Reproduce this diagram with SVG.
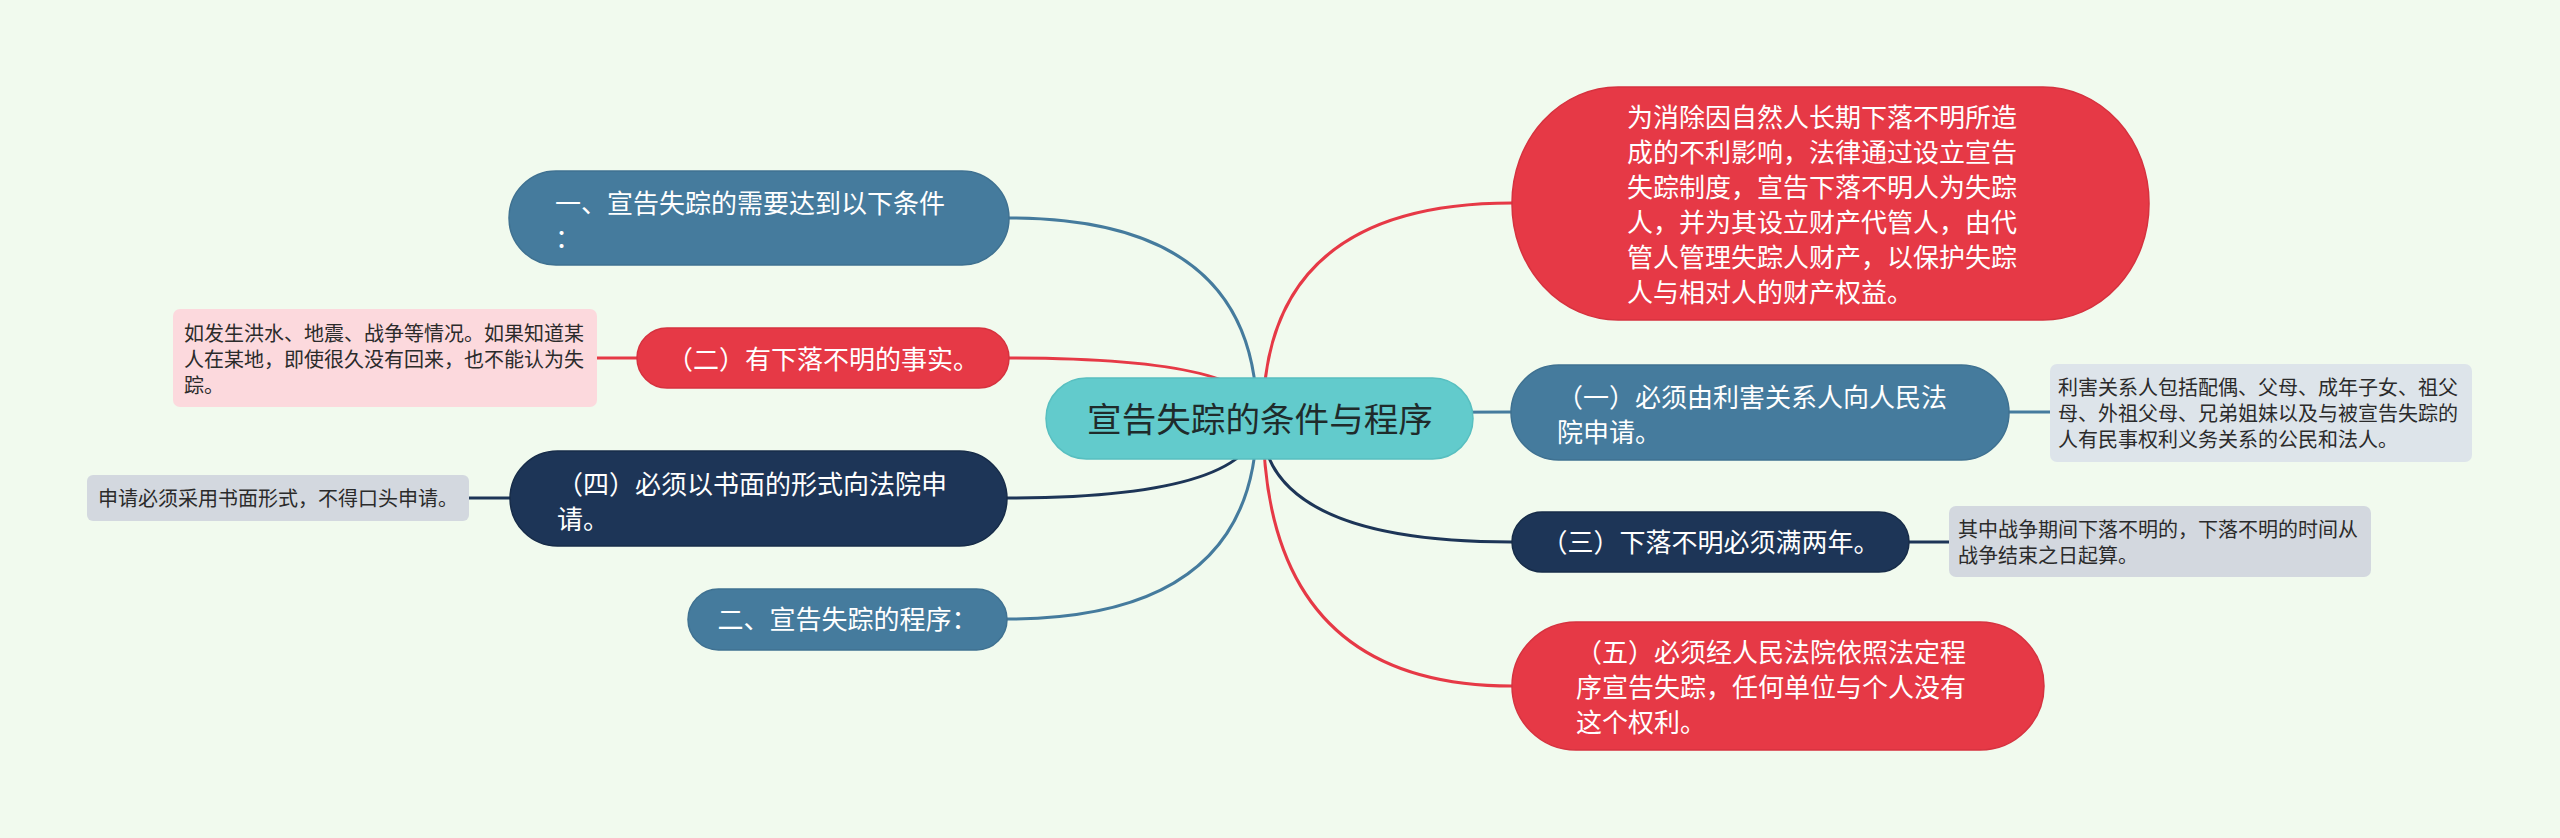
<svg xmlns="http://www.w3.org/2000/svg" width="2560" height="838" viewBox="0 0 2560 838">
<style>
text{font-family:"Noto Sans CJK SC","Noto Sans",sans-serif}
.conn{fill:none;stroke-width:3}
.blue{stroke:#457b9d}.red{stroke:#e63946}.navy{stroke:#1d3557}
.nb{fill:#457b9d;stroke:#3f7191;stroke-width:1.5}
.nr{fill:#e63946;stroke:#d6323f;stroke-width:1.5}
.nn{fill:#1d3557;stroke:#172c49;stroke-width:1.5}
.nt{fill:#ffffff;font-size:26px}
.note{font-size:20px;fill:#2b2b2b}
</style>
<rect x="0" y="0" width="2560" height="838" fill="#f1faee"/>
<g id="connectors">
<path class="conn blue" d="M1257,418 Q1257,218 1009,218"/>
<path class="conn red" d="M1261,418 Q1261,358 1009,358"/>
<path class="conn navy" d="M1259,418 Q1259,498 1007,498"/>
<path class="conn blue" d="M1257,418 Q1257,619 1007,619"/>
<path class="conn red" d="M1263,418 Q1263,203 1512,203"/>
<path class="conn blue" d="M1259,418 Q1259,412 1512,412"/>
<path class="conn navy" d="M1261,418 Q1261,542 1512,542"/>
<path class="conn red" d="M1263,418 Q1263,686 1512,686"/>
<path class="conn red" d="M597,358 L637,358"/>
<path class="conn navy" d="M469,498 L510,498"/>
<path class="conn blue" d="M2009,412 L2050,412"/>
<path class="conn navy" d="M1909,542 L1949,542"/>
</g>
<g id="root">
<rect x="1046" y="378" width="427" height="81" rx="40.5" fill="#62cbcc" stroke="#58bfc0" stroke-width="1.5"/>
<text x="1260" y="432" text-anchor="middle" font-size="34.6" fill="#1f2b2b">宣告失踪的条件与程序</text>
</g>
<g id="n-cond">
<rect x="509" y="171" width="500" height="94" rx="47" class="nb"/>
<text class="nt" x="555" y="213">一、宣告失踪的需要达到以下条件</text>
<text class="nt" x="555" y="248">：</text>
</g>
<g id="n-2">
<rect x="637" y="328" width="372" height="60" rx="30" class="nr"/>
<text class="nt" x="823" y="369" text-anchor="middle">（二）有下落不明的事实。</text>
</g>
<g id="note-2">
<rect x="173" y="309" width="424" height="98" rx="7" fill="#fcd9dd"/>
<text class="note" x="184" y="341" fill="#5a1a20">如发生洪水、地震、战争等情况。如果知道某</text>
<text class="note" x="184" y="367" fill="#5a1a20">人在某地，即使很久没有回来，也不能认为失</text>
<text class="note" x="184" y="393" fill="#5a1a20">踪。</text>
</g>
<g id="n-4">
<rect x="510" y="451" width="497" height="95" rx="47.5" class="nn"/>
<text class="nt" x="557" y="494">（四）必须以书面的形式向法院申</text>
<text class="nt" x="557" y="529">请。</text>
</g>
<g id="note-4">
<rect x="87" y="475" width="382" height="46" rx="6" fill="#d3d8df"/>
<text class="note" x="98" y="506">申请必须采用书面形式，不得口头申请。</text>
</g>
<g id="n-proc">
<rect x="688" y="589" width="319" height="61" rx="30.5" class="nb"/>
<text class="nt" x="847.5" y="629" text-anchor="middle">二、宣告失踪的程序：</text>
</g>
<g id="n-intro">
<rect x="1512" y="87" width="637" height="233" rx="106" ry="116" class="nr"/>
<text class="nt" x="1627" y="127">为消除因自然人长期下落不明所造</text>
<text class="nt" x="1627" y="162">成的不利影响，法律通过设立宣告</text>
<text class="nt" x="1627" y="197">失踪制度，宣告下落不明人为失踪</text>
<text class="nt" x="1627" y="232">人，并为其设立财产代管人，由代</text>
<text class="nt" x="1627" y="267">管人管理失踪人财产，以保护失踪</text>
<text class="nt" x="1627" y="302">人与相对人的财产权益。</text>
</g>
<g id="n-1">
<rect x="1511" y="365" width="498" height="95" rx="47.5" class="nb"/>
<text class="nt" x="1557" y="407">（一）必须由利害关系人向人民法</text>
<text class="nt" x="1557" y="442">院申请。</text>
</g>
<g id="note-1">
<rect x="2050" y="364" width="422" height="98" rx="7" fill="#dde4ea"/>
<text class="note" x="2058" y="395">利害关系人包括配偶、父母、成年子女、祖父</text>
<text class="note" x="2058" y="421">母、外祖父母、兄弟姐妹以及与被宣告失踪的</text>
<text class="note" x="2058" y="447">人有民事权利义务关系的公民和法人。</text>
</g>
<g id="n-3">
<rect x="1512" y="512" width="397" height="60" rx="30" class="nn"/>
<text class="nt" x="1710.5" y="552" text-anchor="middle">（三）下落不明必须满两年。</text>
</g>
<g id="note-3">
<rect x="1949" y="506" width="422" height="71" rx="7" fill="#d3d8df"/>
<text class="note" x="1958" y="537">其中战争期间下落不明的，下落不明的时间从</text>
<text class="note" x="1958" y="563">战争结束之日起算。</text>
</g>
<g id="n-5">
<rect x="1512" y="622" width="532" height="128" rx="64" class="nr"/>
<text class="nt" x="1576" y="662">（五）必须经人民法院依照法定程</text>
<text class="nt" x="1576" y="697">序宣告失踪，任何单位与个人没有</text>
<text class="nt" x="1576" y="732">这个权利。</text>
</g>
</svg>
